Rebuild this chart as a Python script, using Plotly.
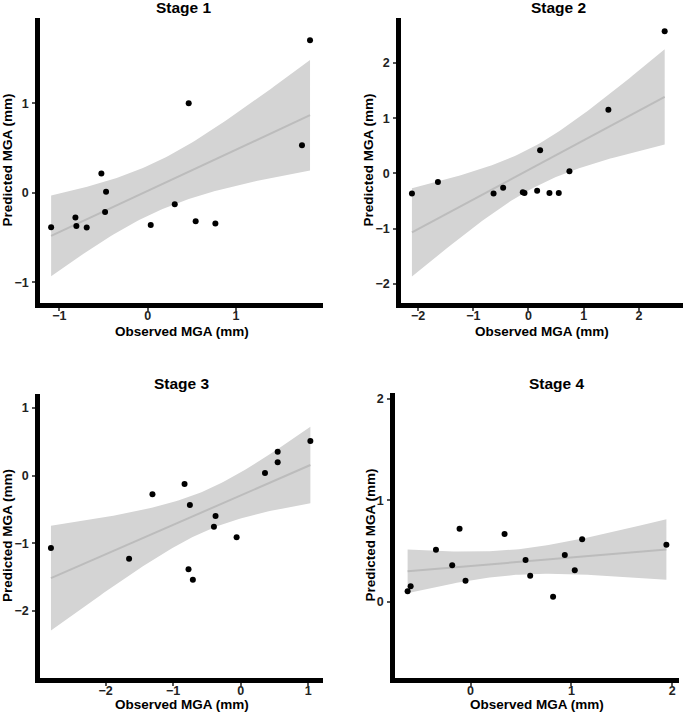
import numpy as np
import plotly.graph_objects as go

# ---- data ----
s1_x = [-1.094, -0.819, -0.808, -0.691, -0.525, -0.472, -0.483, 0.034, 0.306, 0.464, 0.543, 0.766, 1.747, 1.838]
s1_y = [-0.384, -0.276, -0.372, -0.387, 0.216, 0.011, -0.216, -0.361, -0.127, 0.998, -0.317, -0.343, 0.529, 1.702]

s2_x = [-2.112, -1.641, -0.633, -0.459, -0.103, -0.072, 0.157, 0.211, 0.380, 0.549, 0.742, 1.448, 2.468]
s2_y = [-0.363, -0.157, -0.363, -0.260, -0.344, -0.356, -0.314, 0.417, -0.356, -0.356, 0.036, 1.154, 2.574]

s3_x = [-2.808, -1.651, -1.305, -0.830, -0.751, -0.771, -0.707, -0.371, -0.395, -0.059, 0.361, 0.549, 0.549, 1.033]
s3_y = [-1.069, -1.227, -0.276, -0.123, -0.433, -1.384, -1.537, -0.596, -0.754, -0.911, 0.039, 0.355, 0.197, 0.512]

s4_x = [-0.624, -0.594, -0.343, -0.182, -0.109, -0.050, 0.337, 0.545, 0.591, 0.818, 0.934, 1.033, 1.106, 1.941]
s4_y = [0.102, 0.151, 0.512, 0.358, 0.719, 0.207, 0.667, 0.411, 0.256, 0.049, 0.460, 0.309, 0.614, 0.562]

titles = ["Stage 1", "Stage 2", "Stage 3", "Stage 4"]
x_title = "Observed MGA (mm)"
y_title = "Predicted MGA (mm)"
x_ranges = [[-1.22, 1.985], [-2.31, 2.80], [-2.97, 1.22], [-0.749, 2.066]]
y_ranges = [[-1.23, 1.95], [-2.35, 2.816], [-2.99, 1.207], [-0.752, 2.056]]
x_ticks = [[-1, 0, 1], [-2, -1, 0, 1, 2], [-2, -1, 0, 1], [0, 1, 2]]
y_ticks = [[-1, 0, 1], [-2, -1, 0, 1, 2], [-2, -1, 0, 1], [0, 1, 2]]

# t critical values (95%, two-sided) by degrees of freedom
T_CRIT = {10: 2.228, 11: 2.201, 12: 2.179, 13: 2.160}

W, H = 685, 714
# panel pixel boxes: (left, right, top, bottom)
boxes = [(40, 323, 18, 303), (401, 683, 18, 303), (40, 323, 394, 678), (395, 679, 393, 678)]
title_pos = [(184, 8), (558, 8), (182, 383), (557, 383)]
xtitle_y = [331, 331, 704, 704]
ytitle_x = [7, 368, 7, 370]

FONT = "Liberation Sans, Arial, Helvetica, sans-serif"

def lm_band(x, y):
    x = np.asarray(x); y = np.asarray(y)
    n = len(x)
    b1, b0 = np.polyfit(x, y, 1)
    resid = y - (b0 + b1 * x)
    s = np.sqrt(np.sum(resid ** 2) / (n - 2))
    xs = np.linspace(x.min(), x.max(), 80)
    xm = x.mean(); sxx = np.sum((x - xm) ** 2)
    se = s * np.sqrt(1 / n + (xs - xm) ** 2 / sxx)
    t = T_CRIT[n - 2]
    fit = b0 + b1 * xs
    return xs, fit, fit - t * se, fit + t * se

def fmt(v):
    return ("−" + str(-v)) if v < 0 else str(v)

fig = go.Figure()
data = [(s1_x, s1_y), (s2_x, s2_y), (s3_x, s3_y), (s4_x, s4_y)]

for i, (xv, yv) in enumerate(data):
    k = "" if i == 0 else str(i + 1)
    xs, fit, lo, hi = lm_band(xv, yv)
    fig.add_trace(go.Scatter(x=np.concatenate([xs, xs[::-1]]), y=np.concatenate([hi, lo[::-1]]),
                             fill="toself", fillcolor="#d4d4d4", line=dict(width=0),
                             mode="lines", hoverinfo="skip", showlegend=False,
                             xaxis="x" + k, yaxis="y" + k))
    fig.add_trace(go.Scatter(x=xs, y=fit, mode="lines", line=dict(color="#bcbcbc", width=2),
                             showlegend=False, xaxis="x" + k, yaxis="y" + k))
    fig.add_trace(go.Scatter(x=xv, y=yv, mode="markers", marker=dict(color="black", size=6),
                             showlegend=False, xaxis="x" + k, yaxis="y" + k))
    l, r, t, b = boxes[i]
    axcommon = dict(showgrid=False, zeroline=False, showline=True, linecolor="black", linewidth=4.5,
                    ticks="outside", ticklen=3, tickwidth=1.5, tickcolor="#555555", automargin=False,
                    tickfont=dict(family=FONT, size=12.5, color="#222222", weight="bold"))
    fig.layout["xaxis" + k] = dict(axcommon, domain=[l / W, r / W], range=x_ranges[i],
                                   tickvals=x_ticks[i], ticktext=[fmt(v) for v in x_ticks[i]],
                                   ticklabelstandoff=-6, anchor="y" + k)
    fig.layout["yaxis" + k] = dict(axcommon, domain=[1 - b / H, 1 - t / H], range=y_ranges[i],
                                   tickvals=y_ticks[i], ticktext=[fmt(v) for v in y_ticks[i]],
                                   ticklabelstandoff=1, anchor="x" + k)
    tx, ty = title_pos[i]
    fig.add_annotation(x=tx / W, y=1 - ty / H, xref="paper", yref="paper", text=titles[i],
                       showarrow=False, xanchor="center", yanchor="middle",
                       font=dict(family=FONT, size=15.5, color="black", weight="bold"))
    fig.add_annotation(x=(l + r) / 2 / W, y=1 - xtitle_y[i] / H, xref="paper", yref="paper", text=x_title,
                       showarrow=False, xanchor="center", yanchor="middle",
                       font=dict(family=FONT, size=13.5, color="black", weight="bold"))
    fig.add_annotation(x=ytitle_x[i] / W, y=1 - (t + b) / 2 / H, xref="paper", yref="paper", text=y_title,
                       showarrow=False, xanchor="center", yanchor="middle", textangle=-90,
                       font=dict(family=FONT, size=13.5, color="black", weight="bold"))

fig.update_layout(width=W, height=H, margin=dict(l=0, r=0, t=0, b=0),
                  plot_bgcolor="white", paper_bgcolor="white")
fig.write_html("out.html", config={"displayModeBar": False},
               post_script="document.body.style.margin='0';document.body.style.padding='0';")
